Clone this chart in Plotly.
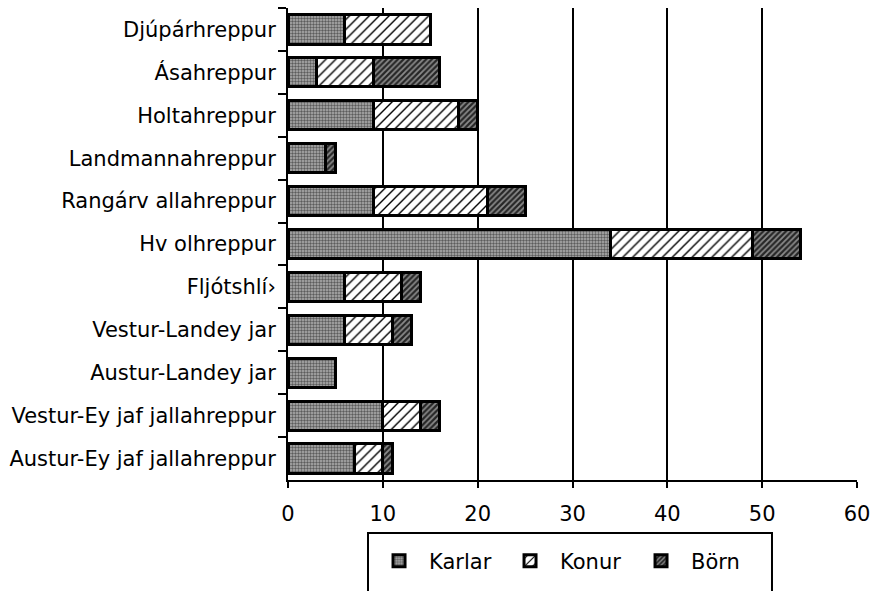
import plotly.graph_objects as go

categories = [
    "Djúpárhreppur",
    "Ásahreppur",
    "Holtahreppur",
    "Landmannahreppur",
    "Rangárv allahreppur",
    "Hv olhreppur",
    "Fljótshlí›",
    "Vestur-Landey jar",
    "Austur-Landey jar",
    "Vestur-Ey jaf jallahreppur",
    "Austur-Ey jaf jallahreppur",
]
karlar = [6, 3, 9, 4, 9, 34, 6, 6, 5, 10, 7]
konur = [9, 6, 9, 0, 12, 15, 6, 5, 0, 4, 3]
born = [0, 7, 2, 1, 4, 5, 2, 2, 0, 2, 1]
x_ticks = [0, 10, 20, 30, 40, 50, 60]

FONT = "DejaVu Sans"
FS = 21


def nz(vals):
    return [v if v else None for v in vals]


series = [
    ("Karlar", karlar, dict(shape=".", fgcolor="#5c5c5c", bgcolor="#b0b0b0", size=3, solidity=0.5)),
    ("Konur", konur, dict(shape="/", fgcolor="#000000", bgcolor="#ffffff", size=7, solidity=0.2)),
    ("Börn", born, dict(shape="/", fgcolor="#8a8a8a", bgcolor="#262626", size=4, solidity=0.45)),
]

fig = go.Figure()
for name, vals, pat in series:
    fig.add_trace(go.Bar(
        y=categories,
        x=nz(vals),
        name=name,
        orientation="h",
        marker=dict(
            color=pat["bgcolor"],
            line=dict(color="black", width=3),
            pattern=dict(shape=pat["shape"], fgcolor=pat["fgcolor"], bgcolor=pat["bgcolor"],
                         size=pat["size"], solidity=pat["solidity"], fillmode="replace"),
        ),
    ))

fig.update_layout(
    width=873,
    height=591,
    barmode="stack",
    bargap=0.32,
    plot_bgcolor="white",
    paper_bgcolor="white",
    margin=dict(l=288, r=16, t=8, b=111, autoexpand=False),
    font=dict(family=FONT, size=FS, color="black"),
    showlegend=True,
    legend=dict(
        orientation="h",
        x=0.1424,
        y=-0.172,
        xanchor="left",
        yanchor="middle",
        bgcolor="rgba(0,0,0,0)",
        borderwidth=0,
        itemwidth=50,
        entrywidth=66,
        font=dict(family=FONT, size=FS, color="black"),
        traceorder="normal",
    ),
    shapes=[dict(
        type="rect", xref="paper", yref="paper",
        x0=0.1406, x1=0.8506, y0=-0.1123, y1=-0.30,
        line=dict(color="black", width=2), fillcolor="rgba(0,0,0,0)", layer="above",
    )],
)

fig.update_xaxes(
    range=[0, 60],
    tickvals=x_ticks,
    ticktext=[str(v) for v in x_ticks],
    showgrid=True, gridcolor="black", gridwidth=2,
    showline=True, linecolor="black", linewidth=2,
    ticks="outside", ticklen=6, tickwidth=2, tickcolor="black",
    ticklabelstandoff=8,
    ticklabeloverflow="allow",
    automargin=False,
    zeroline=False,
    tickfont=dict(family=FONT, size=FS),
    fixedrange=True,
)
fig.update_yaxes(
    autorange="reversed",
    showgrid=False,
    showline=True, linecolor="black", linewidth=2,
    ticks="outside", ticklen=8, tickwidth=2, tickcolor="black",
    tickson="boundaries",
    ticklabelstandoff=6,
    automargin=False,
    tickfont=dict(family=FONT, size=FS),
    fixedrange=True,
)

fig.write_html(
    "out.html",
    config={"displayModeBar": False},
    post_script="document.body.style.margin='0';document.body.style.overflow='hidden';",
)
